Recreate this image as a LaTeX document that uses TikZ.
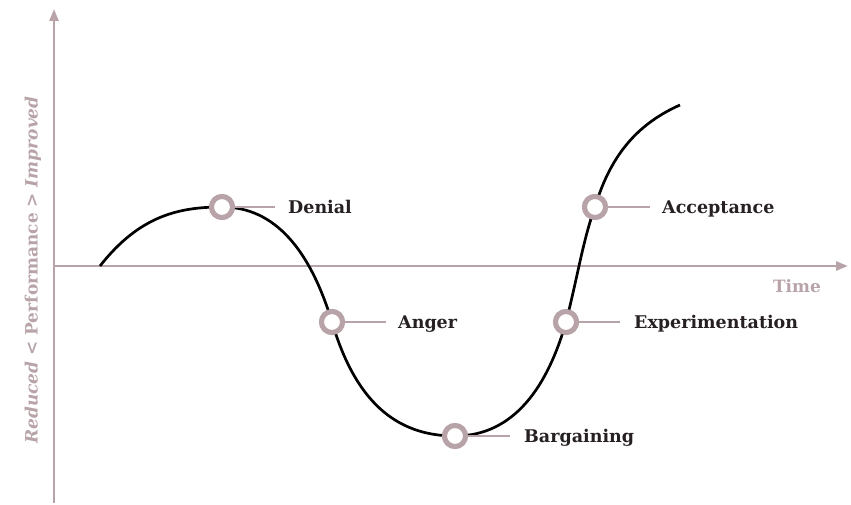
\documentclass[tikz,border=0pt]{standalone}
\usepackage{fontspec}
\setmainfont{DejaVu Serif}
\usetikzlibrary{arrows.meta, positioning}
\definecolor{stagemauve}{RGB}{184,164,168}
\definecolor{stageink}{RGB}{38,32,34}

\begin{document}
\begin{tikzpicture}[x=1pt, y=-1pt]
    \tikzstyle{axis} = [draw=stagemauve, line width=2.6pt, -{Triangle[length=12pt,width=9pt]}]
    \tikzstyle{stage} = [circle, draw=stagemauve, line width=5pt, fill=white, minimum size=21pt, inner sep=0pt]
    \tikzstyle{leader} = [draw=stagemauve, line width=2.6pt]
    \tikzstyle{stagetext} = [font=\bfseries\fontsize{17.5}{21}\selectfont, text=stageink, inner sep=0pt, text height=12.8pt, text depth=0pt]
    \tikzstyle{axistext} = [font=\bfseries\fontsize{17}{20}\selectfont, text=stagemauve, inner sep=0pt]
    \tikzstyle{curve} = [draw=black, line width=2.7pt]

    \useasboundingbox (0,0) rectangle (851,505);

    % axes
    \coordinate (origin) at (54,266);
    \coordinate (ybottom) at (54,503);
    \coordinate (ytop) at (54,9);
    \coordinate (xend) at (848,266);
    \draw [axis] (ybottom) -- (ytop);
    \draw [axis] (origin) -- (xend);
    \node (time) [axistext] at (797,286) {Time};
    \node (perf) [axistext, rotate=90] at (33,270) {\textit{Reduced} < Performance > \textit{Improved}};

    % stages on the curve
    \coordinate (start) at (100,266);
    \coordinate (finish) at (680,105);
    \node (denial) [stage] at (222,207) {};
    \node (anger) [stage] at (332,322) {};
    \node (bargain) [stage] at (455,436) {};
    \node (experiment) [stage] at (566,322) {};
    \node (accept) [stage] at (595,207) {};

    \draw [curve] (start) .. controls (140,215) and (180,207) .. (denial.center)
        .. controls (275,207) and (310,250) .. (anger.center)
        .. controls (355,400) and (395,436) .. (bargain.center)
        .. controls (515,436) and (548,385) .. (experiment.center)
        .. controls (578,275) and (583,240) .. (accept.center)
        .. controls (612,150) and (642,122) .. (finish);

    % redraw the rings above the curve
    \foreach \s in {denial, anger, bargain, experiment, accept}
        \node [stage] at (\s) {};

    \node (denialtext) [stagetext, right=66pt of denial.center, anchor=west] {Denial};
    \node (angertext) [stagetext, right=66pt of anger.center, anchor=west] {Anger};
    \node (bargaintext) [stagetext, right=69pt of bargain.center, anchor=west] {Bargaining};
    \node (experimenttext) [stagetext, right=68pt of experiment.center, anchor=west] {Experimentation};
    \node (accepttext) [stagetext, right=67pt of accept.center, anchor=west] {Acceptance};

    \draw [leader] (denial) -- ([xshift=-13pt]denialtext.west);
    \draw [leader] (anger) -- ([xshift=-12pt]angertext.west);
    \draw [leader] (bargain) -- ([xshift=-14pt]bargaintext.west);
    \draw [leader] (experiment) -- ([xshift=-14pt]experimenttext.west);
    \draw [leader] (accept) -- ([xshift=-12pt]accepttext.west);
\end{tikzpicture}
\end{document}
